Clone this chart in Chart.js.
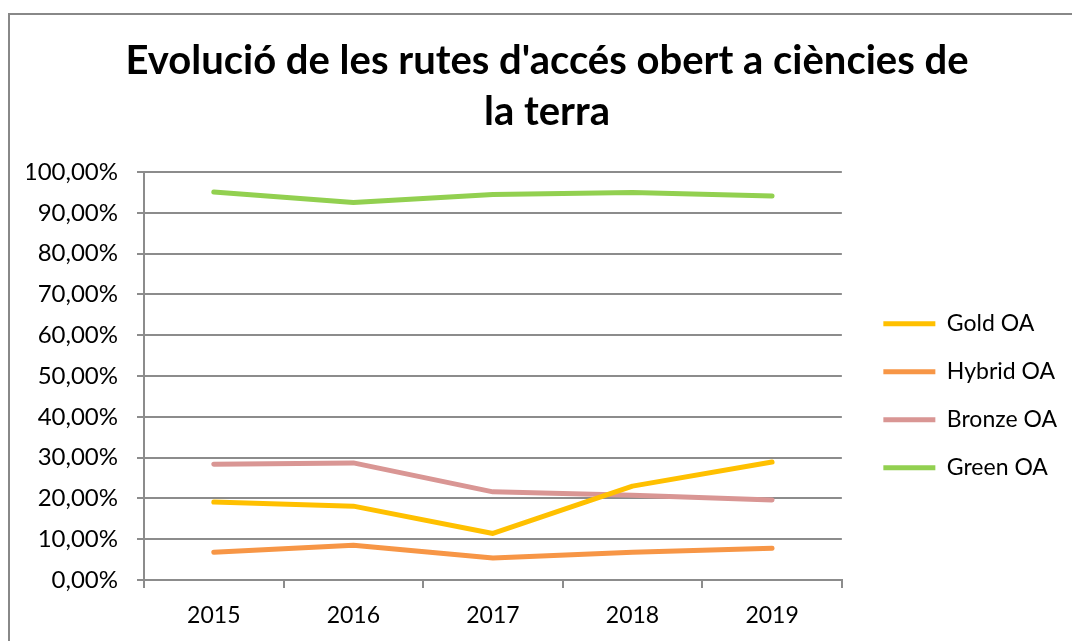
<!DOCTYPE html>
<html lang="ca">
<head>
  <meta charset="UTF-8">
  <title>Evolució de les rutes d'accés obert a ciències de la terra</title>
  <style>
    body { margin: 0; background: #fff; }
    canvas { display: block; }
  </style>
</head>
<body>
  <canvas id="myChart" width="1072" height="641"></canvas>

  <script src="https://cdn.jsdelivr.net/npm/chart.js"></script>
  <script>
    // dades llegides del gràfic
    const years = ['2015', '2016', '2017', '2018', '2019'];
    const goldOA = [0.191, 0.181, 0.114, 0.230, 0.289];
    const hybridOA = [0.068, 0.085, 0.054, 0.068, 0.078];
    const bronzeOA = [0.284, 0.287, 0.216, 0.208, 0.196];
    const greenOA = [0.951, 0.925, 0.945, 0.950, 0.941];
    const yTicks = [0, 0.1, 0.2, 0.3, 0.4, 0.5, 0.6, 0.7, 0.8, 0.9, 1];

    const font = 'Lato';
    const gridColor = '#8c8c8c';

    function serie(label, values, color) {
      return {
        label: label,
        data: values,
        borderColor: color,
        backgroundColor: color,
        borderWidth: 5,
        borderCapStyle: 'round',
        borderJoinStyle: 'round',
        pointRadius: 0,
        tension: 0,
        fill: false
      };
    }

    // marc gris al voltant del gràfic
    const frame = {
      id: 'frame',
      beforeDraw(chart) {
        const ctx = chart.ctx;
        ctx.save();
        ctx.fillStyle = '#fff';
        ctx.fillRect(0, 0, chart.width, chart.height);
        ctx.strokeStyle = '#888';
        ctx.lineWidth = 2;
        ctx.strokeRect(9, 14, 1200, 1000);
        ctx.restore();
      }
    };

    const ctx = document.getElementById('myChart').getContext('2d');
    const myChart = new Chart(ctx, {
      type: 'line',
      data: {
        labels: years,
        datasets: [
          serie('Gold OA', goldOA, '#FFC000'),
          serie('Hybrid OA', hybridOA, '#F79646'),
          serie('Bronze OA', bronzeOA, '#D99694'),
          serie('Green OA', greenOA, '#92D050')
        ]
      },
      options: {
        responsive: false,
        animation: false,
        layout: { padding: { left: 27, right: 5, top: 0, bottom: 0 } },
        plugins: {
          title: {
            display: true,
            text: ["Evolució de les rutes d'accés obert a ciències de", 'la terra'],
            color: '#000',
            font: { family: font, size: 40, weight: 'bold', lineHeight: 51 / 40 },
            padding: { top: 36, bottom: 34 }
          },
          legend: {
            position: 'right',
            align: 'start',
            title: { display: true, text: ' ', font: { size: 1 }, padding: { top: 269.5, bottom: 0 } },
            labels: {
              color: '#000',
              // el padding separa la llegenda del gràfic; l'alçada de línia fixa l'espai entre entrades
              font: { family: font, size: 23, lineHeight: '6.5px' },
              usePointStyle: true,
              pointStyle: 'line',
              pointStyleWidth: 52,
              padding: 41.5,
              generateLabels(chart) {
                return Chart.defaults.plugins.legend.labels.generateLabels(chart)
                  .map(item => Object.assign(item, { text: [item.text] }));
              }
            }
          },
          tooltip: { enabled: false }
        },
        scales: {
          x: {
            type: 'category',
            offset: true,
            grid: { offset: true, drawOnChartArea: false, drawTicks: true, tickLength: 8, color: gridColor, lineWidth: 2 },
            border: { display: true, color: gridColor, width: 2 },
            ticks: { color: '#000', font: { family: font, size: 23 }, padding: 14, maxRotation: 0 },
            afterFit(s) { s.height = 61; }
          },
          y: {
            min: 0,
            max: 1,
            afterBuildTicks(s) { s.ticks = yTicks.map(v => ({ value: v })); },
            grid: { color: gridColor, lineWidth: 2, tickLength: 7 },
            border: { display: true, color: gridColor, width: 2 },
            ticks: {
              color: '#000',
              font: { family: font, size: 24 },
              padding: 19,
              callback: v => (v * 100).toFixed(2).replace('.', ',') + '%'
            },
            afterFit(s) { s.width = 117; }
          }
        }
      },
      plugins: [frame]
    });
  </script>
</body>
</html>
